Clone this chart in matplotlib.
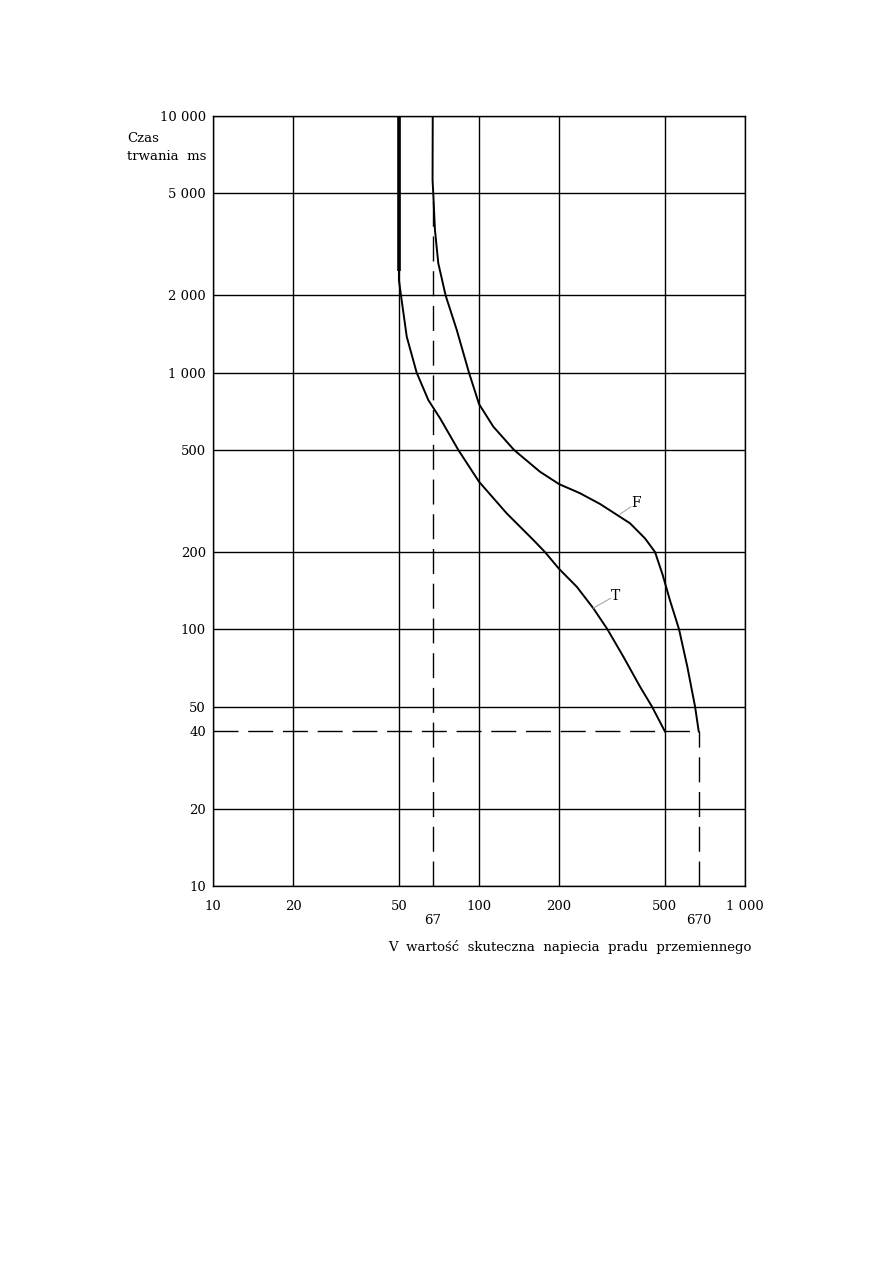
import matplotlib
matplotlib.use("Agg")
import matplotlib.pyplot as plt
from matplotlib.ticker import FixedLocator, FixedFormatter

plt.rcParams['font.family'] = ['DejaVu Serif']

# ---- data ----
# Curve T (thick vertical part + curved part), voltage V / time ms
t_vert_v = [50, 50]
t_vert_ms = [10000, 2500]
t_v = [50, 50, 50.9, 53.5, 58.3, 64.5, 71.4, 83.6, 100, 127.1, 160, 177, 200, 233, 269, 304, 349, 403, 447, 500]
t_ms = [2500, 2296, 2000, 1381, 1000, 782, 664, 500, 376, 283, 223, 200, 172, 146.6, 120.8, 100, 78.2, 59.8, 50, 40]

# Curve F
f_v = [67, 66.9, 67.3, 68.3, 70.3, 74.9, 82.5, 91.7, 100, 113.2, 135.4, 169.6, 200, 239.8, 285, 369.5, 421, 459, 490.5, 522, 565, 607, 649, 670]
f_ms = [10000, 5633, 5000, 3596, 2668, 2000, 1466, 1000, 755, 616, 500, 411, 368, 339, 308, 259, 226, 200, 162.8, 130, 100, 71.5, 50, 40]

# reference (dashed) lines
ref_v_low = 67
ref_v_high = 670
ref_ms = 40
ref_v_low_top = 4700

x_major = [10, 20, 50, 100, 200, 500, 1000]
x_major_labels = ['10', '20', '50', '100', '200', '500', '1 000']
x_minor = [67, 670]
x_minor_labels = ['67', '670']
y_major = [10, 20, 50, 100, 200, 500, 1000, 2000, 5000, 10000]
y_major_labels = ['10', '20', '50', '100', '200', '500', '1 000', '2 000', '5 000', '10 000']
y_minor = [40]
y_minor_labels = ['40']

# label positions (F, T) and leader lines
f_label = (389, 312)
f_leader = ([339, 372], [281, 300])
t_label = (327, 135)
t_leader = ([269, 312], [121, 132])

W, H = 893, 1263
fig = plt.figure(figsize=(W / 100, H / 100), dpi=100)
ax = fig.add_axes([213 / W, 377 / H, 532 / W, 770 / H])
ax.set_xscale('log')
ax.set_yscale('log')
ax.set_xlim(10, 1000)
ax.set_ylim(10, 10000)

ax.xaxis.set_major_locator(FixedLocator(x_major))
ax.xaxis.set_major_formatter(FixedFormatter(x_major_labels))
ax.xaxis.set_minor_locator(FixedLocator(x_minor))
ax.xaxis.set_minor_formatter(FixedFormatter(x_minor_labels))
ax.yaxis.set_major_locator(FixedLocator(y_major))
ax.yaxis.set_major_formatter(FixedFormatter(y_major_labels))
ax.yaxis.set_minor_locator(FixedLocator(y_minor))
ax.yaxis.set_minor_formatter(FixedFormatter(y_minor_labels))

ax.tick_params(axis='both', which='both', length=0, labelsize=9.5, colors='black')
ax.tick_params(axis='x', which='major', pad=10)
ax.tick_params(axis='x', which='minor', pad=20)
ax.tick_params(axis='y', which='both', pad=5)

ax.grid(True, which='major', color='black', linewidth=1.0)
for s in ax.spines.values():
    s.set_linewidth(1.0)
    s.set_color('black')

dash = (18, 7)
ax.plot([ref_v_low, ref_v_low], [10, ref_v_low_top], color='black', lw=1.0, dashes=dash)
ax.plot([10, ref_v_high], [ref_ms, ref_ms], color='black', lw=1.0, dashes=dash)
ax.plot([ref_v_high, ref_v_high], [10, ref_ms], color='black', lw=1.0, dashes=dash)

ax.plot(t_vert_v, t_vert_ms, color='black', lw=2.6, solid_capstyle='butt')
ax.plot(t_v, t_ms, color='black', lw=1.4, solid_joinstyle='round')
ax.plot(f_v, f_ms, color='black', lw=1.4, solid_joinstyle='round')

ax.plot(*f_leader, color='#aaaaaa', lw=0.8)
ax.plot(*t_leader, color='#aaaaaa', lw=0.8)
ax.text(*f_label, 'F', fontsize=10, ha='center', va='center')
ax.text(*t_label, 'T', fontsize=10, ha='center', va='center')

fig.text(127 / W, 1 - 139 / H, 'Czas', fontsize=9.5, ha='left', va='center')
fig.text(127 / W, 1 - 157 / H, 'trwania  ms', fontsize=9.5, ha='left', va='center')
fig.text(752 / W, 1 - 947 / H, 'V  wartość  skuteczna  napiecia  pradu  przemiennego',
         fontsize=9.5, ha='right', va='center')

fig.savefig('out.png', dpi=100, facecolor='white')
